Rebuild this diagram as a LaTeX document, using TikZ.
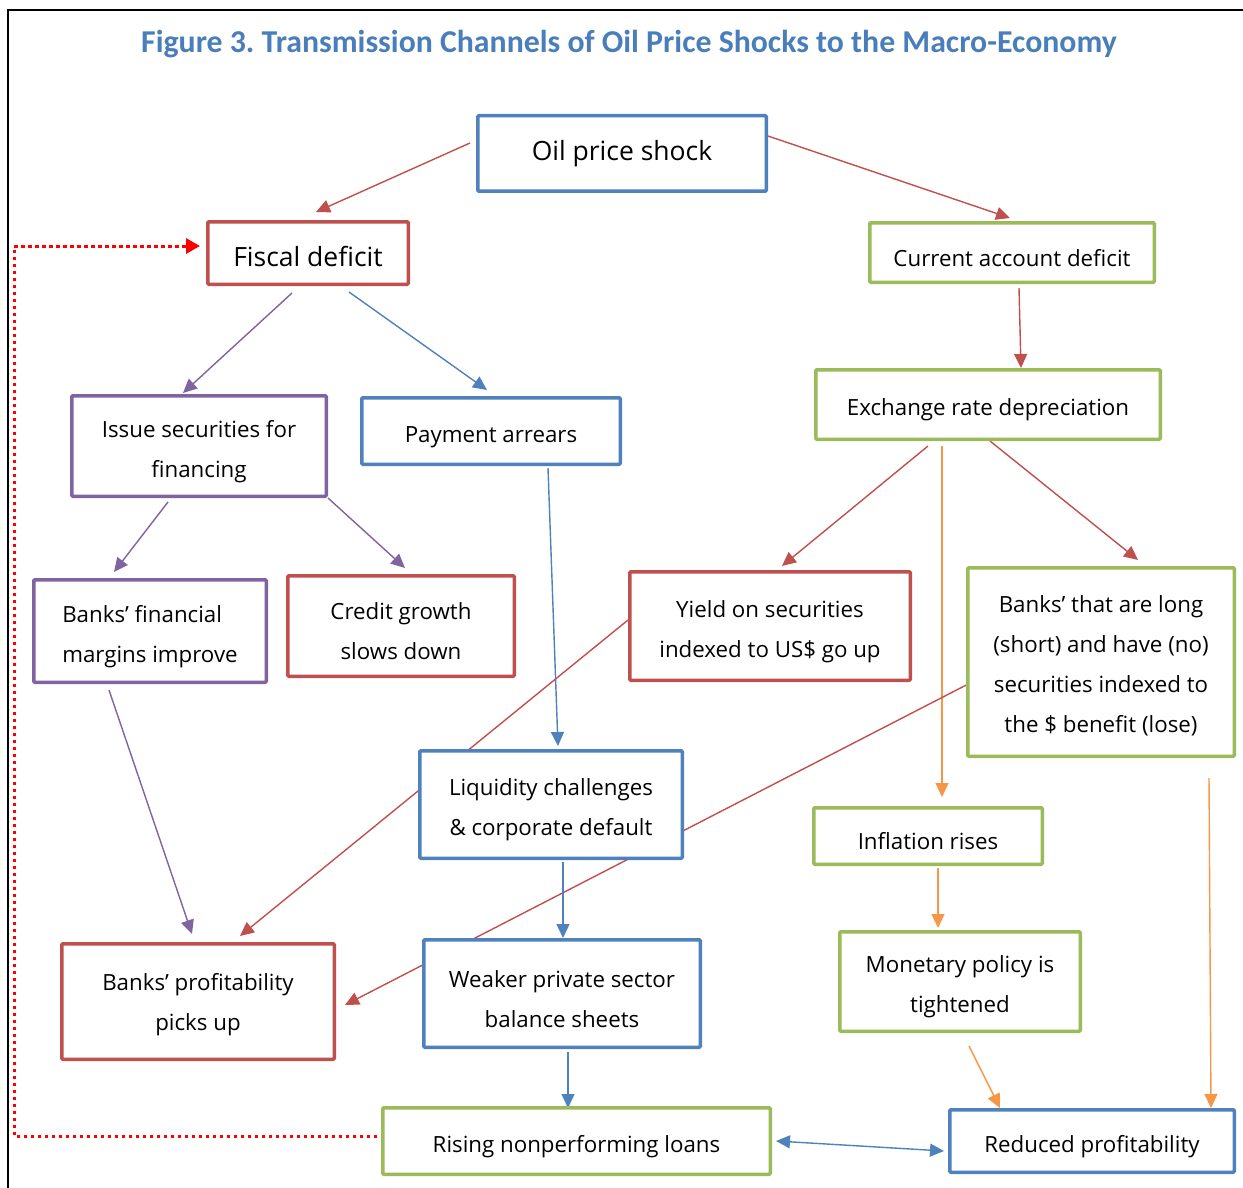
\documentclass[tikz,border=0pt]{standalone}
\usepackage{fontspec}
\setmainfont{Open Sans}
\newfontfamily\titlefont{Carlito}
\usetikzlibrary{arrows.meta,calc}
\definecolor{cred}{HTML}{C0504D}
\definecolor{cblue}{HTML}{4F81BD}
\definecolor{cgreen}{HTML}{9BBB59}
\definecolor{cpurple}{HTML}{8064A2}
\definecolor{corange}{HTML}{F79646}
\definecolor{ctitle}{HTML}{4A7EBB}
\newcommand\tstrut{\rule{0pt}{28pt}}
\pgfdeclarelayer{background}
\pgfsetlayers{background,main}
\tikzset{
  box/.style={draw, line width=3.5pt, fill=white, rounded corners=1pt, inner sep=2pt,
     font={\fontsize{22.3}{40}\selectfont}, align=center},
  bigbox/.style={box, font={\fontsize{26.5}{40}\selectfont}},
  conn/.style={line width=1.4pt, -{Triangle[length=14pt,width=13pt]}},
  redc/.style={conn, draw=cred, fill=cred},
  bluec/.style={conn, draw=cblue, fill=cblue},
  purplec/.style={conn, draw=cpurple, fill=cpurple},
  orangec/.style={conn, draw=corange, fill=corange},
}
\begin{document}
\begin{tikzpicture}[x=1pt,y=-1pt]
\useasboundingbox (0,0) rectangle (1243,1188);
\draw[line width=2pt] (8,1188) -- (8,10) -- (1243,10);
\node[font={\titlefont\bfseries\fontsize{31.8}{34}\selectfont}, text=ctitle] (title) at (629,44) {Figure 3.\ Transmission Channels of Oil Price Shocks to the Macro-Economy};

\node[bigbox, draw=cblue, minimum width=288.5, minimum height=75.5] (oil) at (622,153.5) {\rule{0pt}{19pt}Oil price shock};
\node[bigbox, draw=cred, minimum width=200.5, minimum height=62.5] (fiscal) at (308,253) {\rule{0pt}{27pt}Fiscal deficit};
\node[box, draw=cgreen, minimum width=284.5, minimum height=59.5] (current) at (1012,252.5) {\tstrut Current account deficit};
\node[box, draw=cgreen, minimum width=344.5, minimum height=69.5] (exch) at (988,404.5) {\tstrut Exchange rate depreciation};
\node[box, draw=cpurple, minimum width=254.5, minimum height=100.5] (issue) at (199,446) {\tstrut Issue securities for\\financing};
\node[box, draw=cblue, minimum width=258.5, minimum height=66.5] (pay) at (491,431) {\tstrut Payment arrears};
\node[box, draw=cpurple, minimum width=232.5, minimum height=102.5, align=left] (bfin) at (150,631) {\tstrut Banks’ financial\\margins improve};
\node[box, draw=cred, minimum width=226.5, minimum height=100.5] (credit) at (401,626) {\tstrut Credit growth\\slows down};
\node[box, draw=cred, minimum width=280.5, minimum height=108.5] (yield) at (770,626) {\tstrut Yield on securities\\indexed to US\$ go up};
\node[box, draw=cgreen, minimum width=266.5, minimum height=188.5] (blong) at (1101,662) {\rule{0pt}{24pt}Banks’ that are long\\(short) and have (no)\\securities indexed to\\the \$ benefit (lose)};
\node[box, draw=cblue, minimum width=262.5, minimum height=107.5] (liq) at (551,804.5) {\tstrut Liquidity challenges\\\& corporate default};
\node[box, draw=cgreen, minimum width=228.5, minimum height=56.5] (infl) at (928,836) {\tstrut Inflation rises};
\node[box, draw=cgreen, minimum width=240.5, minimum height=99.5] (mon) at (960,981.5) {\tstrut Monetary policy is\\tightened};
\node[box, draw=cred, minimum width=272.5, minimum height=115.5] (bprof) at (198,1001.5) {\rule{0pt}{24pt}Banks’ profitability\\picks up};
\node[box, draw=cblue, minimum width=276.5, minimum height=107.5] (weak) at (562,993.5) {\tstrut Weaker private sector\\balance sheets};
\node[box, draw=cgreen, minimum width=387.5, minimum height=66.5] (rising) at (576.5,1141) {\tstrut Rising nonperforming loans};
\node[box, draw=cblue, minimum width=284.5, minimum height=62.5] (reduced) at (1092,1141) {\tstrut Reduced profitability};

\begin{pgfonlayer}{background}
\draw[redc] ([shift={(-6,-10.5)}]oil.west) -- ([shift={(8,-8)}]fiscal.north);
\draw[redc] ([shift={(0,-17.5)}]oil.east) -- ([shift={(-2,-3)}]current.north);
\draw[redc] ([shift={(7,4)}]current.south) -- ([shift={(33,0)}]exch.north);
\draw[purplec] ([shift={(-16,7)}]fiscal.south) -- ([shift={(-16,-1)}]issue.north);
\draw[bluec] ([shift={(41,6)}]fiscal.south) -- ([shift={(-4,-6)}]pay.north);
\draw[purplec] ([shift={(-31,4)}]issue.south) -- ([shift={(-36,-6)}]bfin.north);
\draw[purplec] (issue.south east) -- ([shift={(4,-6)}]credit.north);
\draw[bluec] ([shift={(57,2)}]pay.south) -- ([shift={(7,-3)}]liq.north);
\draw[redc] ([shift={(-60,5)}]exch.south) -- ([shift={(12,-4)}]yield.north);
\draw[redc] ([shift={(2,0)}]exch.south) -- ([shift={(37,-6)}]blong.north);
\draw[orangec] ([shift={(-46,5)}]exch.south) -- ([shift={(14,-9)}]infl.north);
\draw[purplec] ([shift={(-41,6)}]bfin.south) -- ([shift={(-6,-8)}]bprof.north);
\draw[redc] ([shift={(0,-6)}]yield.west) -- ([shift={(42,-6)}]bprof.north);
\draw[redc] ([shift={(10,18)}]blong.west) -- ([shift={(9,3.5)}]bprof.east);
\draw[bluec] ([shift={(12,2)}]liq.south) -- ([shift={(1,0)}]weak.north);
\draw[orangec] ([shift={(10,2)}]infl.south) -- ([shift={(-22,-2)}]mon.north);
\draw[orangec] ([shift={(9,13)}]mon.south) -- ([shift={(-92,0)}]reduced.north);
\draw[orangec] ([shift={(108,20)}]blong.south) -- ([shift={(119,0)}]reduced.north);
\draw[bluec] ([shift={(6,3)}]weak.south) -- ([shift={(-8.5,2)}]rising.north);
\draw[bluec, {Triangle[length=14pt,width=13pt]}-{Triangle[length=14pt,width=13pt]}] ([shift={(4,0)}]rising.east) -- ([shift={(-4,10)}]reduced.west);
\draw[red, line width=3pt, dash pattern=on 3.5pt off 3.5pt, -{Triangle[length=14pt,width=15pt]}] ([shift={(-4,-5)}]rising.west) -- ++(-363,0) |- ([shift={(-6,-7)}]fiscal.west);
\end{pgfonlayer}
\end{tikzpicture}
\end{document}
